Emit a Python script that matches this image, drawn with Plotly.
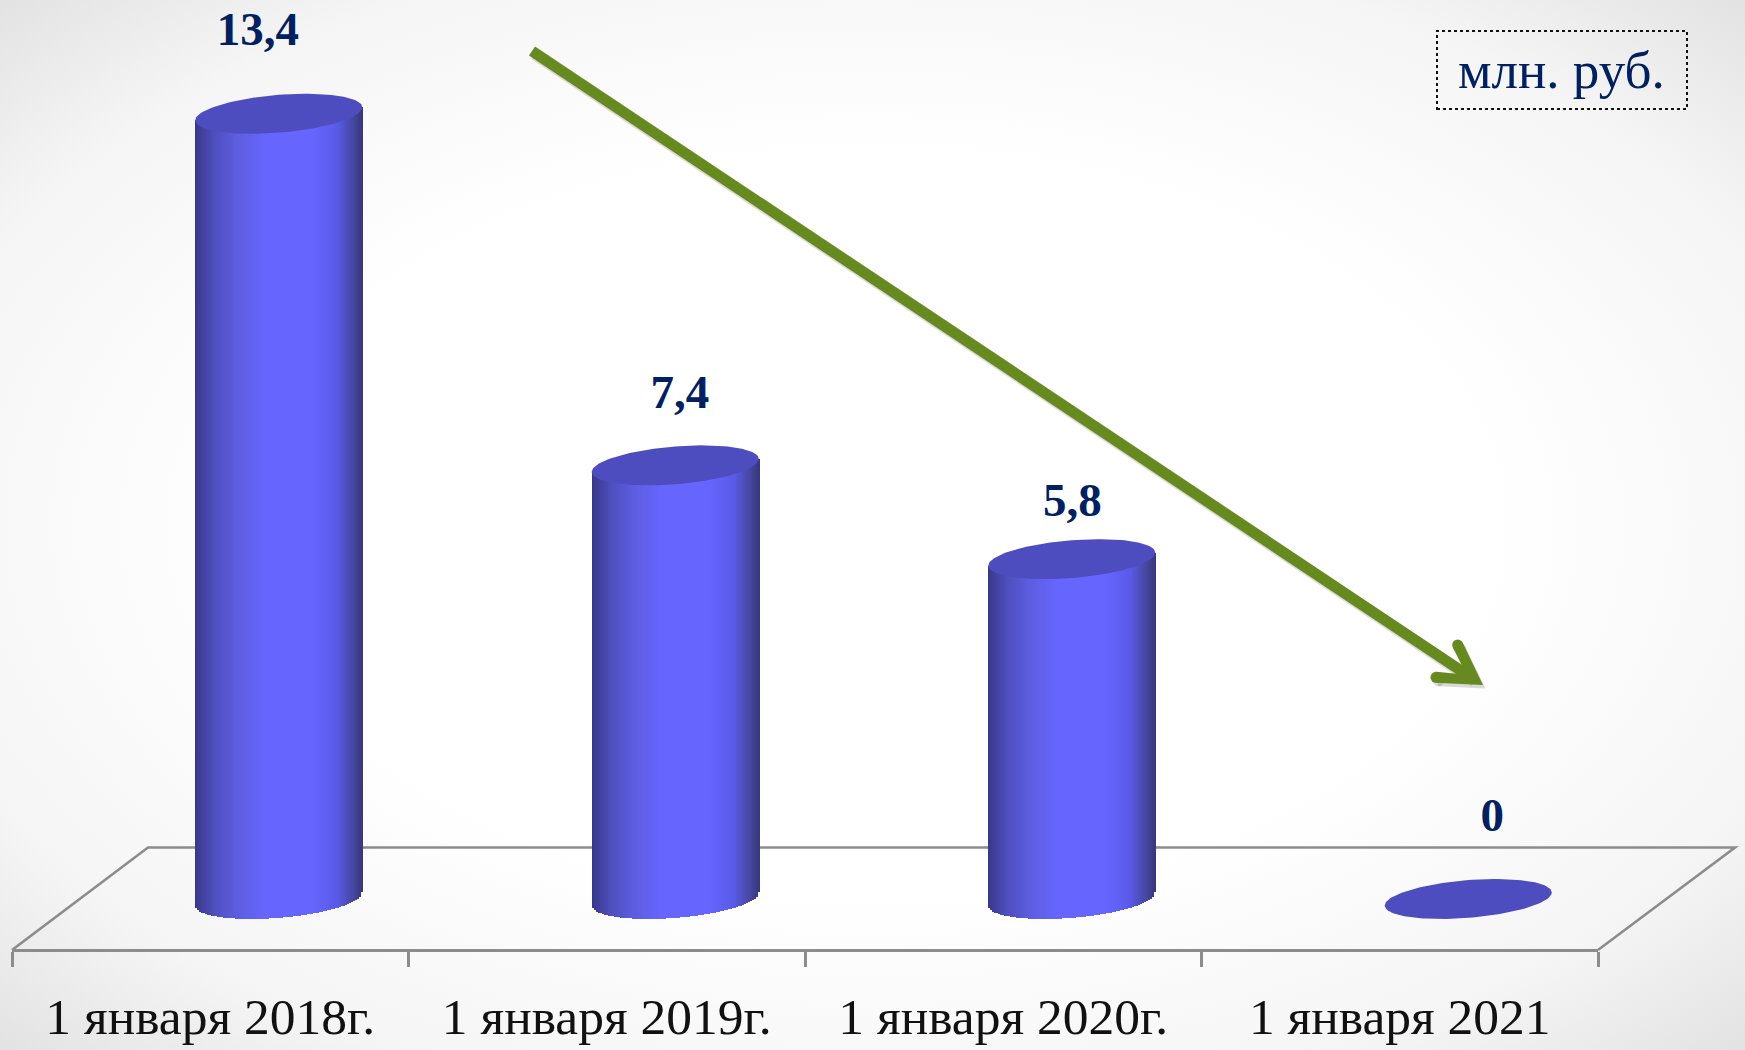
import base64
import numpy as np
import plotly.graph_objects as go

# ---- data ----
categories = ["1 января 2018г.", "1 января 2019г.", "1 января 2020г.", "1 января 2021"]
values = [13.4, 7.4, 5.8, 0]
value_labels = ["13,4", "7,4", "5,8", "0"]
unit_label = "млн. руб."

# ---- page geometry (pixels) ----
W, H = 1745, 1050
M_L, M_R, M_B = 12, 147, 101
PX_PER_CAT = (W - M_L - M_R) / 4
Y0_PX = 899                # pixel row of value 0 (bar base centre)
PX_PER_VAL = 58.6
PLOT_H = H - M_B
Y_MIN = -(PLOT_H - Y0_PX) / PX_PER_VAL
Y_MAX = Y0_PX / PX_PER_VAL

def yv(py):
    return (Y0_PX - py) / PX_PER_VAL
def pxp(px):  # paper coordinates
    return (px - M_L) / (W - M_L - M_R)
def pyp(py):
    return 1 - py / PLOT_H

# ---- styles ----
NAVY = "#002060"
GRID = "#8c8c8c"
GREEN = "#668a1f"
CAP = "#4d4dbf"
FONT = "Liberation Serif"
BAR_OFFSET = 68.5 / PX_PER_CAT
HALF_W = 83.5 / PX_PER_CAT
ELL_B = 18.9 / PX_PER_VAL
ELL_K = 0.078 * PX_PER_CAT / PX_PER_VAL   # tilt, right side higher
grad_pos = [0.0, 0.05, 0.12, 0.25, 0.42, 0.7, 0.85, 0.94, 1.0]
grad_r = [56, 66, 79, 93, 102, 102, 90, 72, 56]
grad_g = [56, 66, 79, 93, 102, 102, 90, 72, 56]
grad_b = [135, 160, 192, 224, 255, 255, 232, 165, 125]
label_dx = [-21, 4.5, 0.5, 24]
label_py = [33, 396, 504, 819]

fig = go.Figure()

# cylinder sides, one thin bar per colour step
STRIP = 2 / PX_PER_CAT
for i, v in enumerate(values):
    if v <= 0:
        continue
    cx = i + BAR_OFFSET
    n = int(round(2 * HALF_W / STRIP))
    xs = cx - HALF_W + STRIP * (np.arange(n) + 0.5)
    u = (xs - cx) / HALF_W
    tilt = ELL_K * (xs - cx)
    lower = tilt - ELL_B * np.sqrt(np.clip(1 - u**2, 0, 1))
    upper = v + tilt
    t = (u + 1) / 2
    r, g, b = (np.interp(t, grad_pos, c) for c in (grad_r, grad_g, grad_b))
    cols = [f"rgb({a:.0f},{c:.0f},{d:.0f})" for a, c, d in zip(r, g, b)]
    fig.add_bar(x=xs, y=upper - lower, base=lower, width=STRIP,
                marker=dict(color=cols, line=dict(width=0)),
                showlegend=False, hoverinfo="skip")

# cylinder caps
th = np.linspace(0, 2 * np.pi, 121)
for i, v in enumerate(values):
    cx = i + BAR_OFFSET
    ex = HALF_W * np.cos(th)
    ey = v + ELL_K * ex + ELL_B * np.sin(th)
    fig.add_scatter(x=cx + ex, y=ey, mode="lines", fill="toself", fillcolor=CAP,
                    line=dict(width=0, color=CAP), showlegend=False, hoverinfo="skip")

# value labels (also carries the label axis)
fig.add_scatter(
    x=[i + BAR_OFFSET + dx / PX_PER_CAT for i, dx in enumerate(label_dx)],
    y=[yv(p) for p in label_py],
    xaxis="x2", mode="text", text=value_labels, textposition="middle center",
    textfont=dict(family=FONT, size=47, color=NAVY, weight="bold"),
    showlegend=False, hoverinfo="skip", cliponaxis=False)

# ---- shapes: floor, arrow, unit box ----
def path(pts, close=False):
    s = "M" + " L".join(f"{pxp(x):.5f},{pyp(y):.5f}" for x, y in pts)
    return s + (" Z" if close else "")

floor = [(12, 950), (148, 847.5), (1735, 847.5), (1598, 950)]
shaft = [(532, 51), (1472, 678)]
head = [(1462.6, 642.5), (1483, 685), (1435.4, 682.8), (1436.6, 671.8), (1466.6, 674.8), (1452.8, 647.5)]
leg_ends = [(1457.7, 645), (1436, 677.3)]
SH = (2.5, 3.5)

shapes = [dict(type="path", path=path(floor), xref="paper", yref="paper", layer="below",
               line=dict(color=GRID, width=2.6))]
def arrow(dx, dy, col, opacity, layer):
    out = [dict(type="path", path=path([(x + dx, y + dy) for x, y in shaft]), xref="paper", yref="paper",
                line=dict(color=col, width=11), opacity=opacity, layer=layer),
           dict(type="path", path=path([(x + dx, y + dy) for x, y in head], True), xref="paper", yref="paper",
                fillcolor=col, line=dict(width=0), opacity=opacity, layer=layer)]
    for x, y in leg_ends:
        out.append(dict(type="circle", xref="paper", yref="paper",
                        x0=pxp(x + dx - 5.5), x1=pxp(x + dx + 5.5),
                        y0=pyp(y + dy + 5.5), y1=pyp(y + dy - 5.5),
                        fillcolor=col, line=dict(width=0), opacity=opacity, layer=layer))
    return out
shapes += arrow(SH[0], SH[1], "#555555", 0.22, "above")
shapes += arrow(0, 0, GREEN, 1, "above")
shapes.append(dict(type="rect", xref="paper", yref="paper",
                   x0=pxp(1437), x1=pxp(1687), y0=pyp(109), y1=pyp(31),
                   line=dict(color="#111111", width=2, dash="dot")))

# ---- background ----
svg = f"""<svg xmlns='http://www.w3.org/2000/svg' width='{W}' height='{H}'>
<defs><radialGradient id='g' cx='50%' cy='50%' r='71%'>
<stop offset='0' stop-color='#ffffff'/><stop offset='0.5' stop-color='#ffffff'/>
<stop offset='0.8' stop-color='#f5f5f5'/><stop offset='1' stop-color='#e2e2e2'/>
</radialGradient></defs><rect width='{W}' height='{H}' fill='url(#g)'/></svg>"""
bg = "data:image/svg+xml;base64," + base64.b64encode(svg.encode()).decode()

fig.update_layout(
    width=W, height=H, autosize=False,
    margin=dict(l=M_L, r=M_R, t=0, b=M_B, pad=0, autoexpand=False),
    paper_bgcolor="white", plot_bgcolor="rgba(0,0,0,0)",
    barmode="overlay", bargap=0, showlegend=False,
    xaxis=dict(range=[-0.5, 3.5], tickmode="array", tickvals=[-0.5, 0.5, 1.5, 2.5, 3.5],
               ticktext=["", "", "", "", ""], ticks="outside", ticklen=15, tickwidth=2.6, tickcolor=GRID,
               showline=True, linecolor=GRID, linewidth=2.6, showgrid=False, zeroline=False,
               fixedrange=True, automargin=False),
    xaxis2=dict(range=[-0.5, 3.5], overlaying="x", side="bottom", anchor="y",
                tickmode="array", tickvals=list(range(len(categories))), ticktext=categories,
                ticks="outside", ticklen=22, tickcolor="rgba(0,0,0,0)", tickwidth=1,
                tickfont=dict(family=FONT, size=51.5, color="#111111"),
                showline=False, showgrid=False, zeroline=False, fixedrange=True, automargin=False),
    yaxis=dict(range=[Y_MIN, Y_MAX], visible=False, fixedrange=True, automargin=False),
    shapes=shapes,
    images=[dict(source=bg, xref="paper", yref="paper", x=pxp(0), y=pyp(0),
                 sizex=W / (W - M_L - M_R), sizey=H / PLOT_H, sizing="stretch",
                 xanchor="left", yanchor="top", layer="below")],
    annotations=[dict(text=unit_label, xref="paper", yref="paper", x=pxp(1561), y=pyp(70),
                      xanchor="center", yanchor="middle", showarrow=False,
                      font=dict(family=FONT, size=53, color=NAVY))],
)

fig.write_html("out.html", config=dict(displayModeBar=False),
               post_script="document.body.style.margin='0';document.body.style.overflow='hidden';")
